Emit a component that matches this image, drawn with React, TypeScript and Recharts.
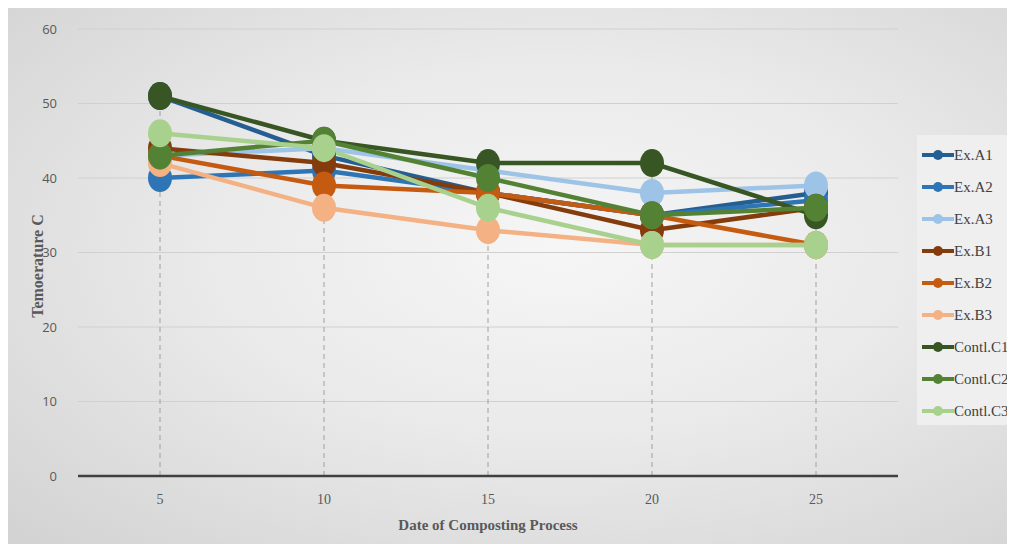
import { LineChart, Line, XAxis, YAxis, CartesianGrid, ReferenceLine } from 'recharts'

const days = ['5', '10', '15', '20', '25']
const yTicks = [0, 10, 20, 30, 40, 50, 60]

const exA1 = [51, 43, 38, 35, 38]
const exA2 = [40, 41, 38, 35, 37]
const exA3 = [43, 44, 41, 38, 39]
const exB1 = [44, 42, 38, 33, 36]
const exB2 = [43, 39, 38, 35, 31]
const exB3 = [42, 36, 33, 31, 31]
const contC1 = [51, 45, 42, 42, 35]
const contC2 = [43, 45, 40, 35, 36]
const contC3 = [46, 44, 36, 31, 31]

const series = [
  { key: 'Ex.A1', values: exA1, color: '#255e91' },
  { key: 'Ex.A2', values: exA2, color: '#2e75b6' },
  { key: 'Ex.A3', values: exA3, color: '#9dc3e6' },
  { key: 'Ex.B1', values: exB1, color: '#843c0c' },
  { key: 'Ex.B2', values: exB2, color: '#c55a11' },
  { key: 'Ex.B3', values: exB3, color: '#f4b183' },
  { key: 'Contl.C1', values: contC1, color: '#375623' },
  { key: 'Contl.C2', values: contC2, color: '#548235' },
  { key: 'Contl.C3', values: contC3, color: '#a9d18e' },
]

const data = days.map((d, i) => {
  const row: Record<string, string | number> = { day: d }
  series.forEach((s) => {
    row[s.key] = s.values[i]
  })
  return row
})

// drop lines go from the axis up to the highest point of each day
const tops = days.map((_, i) => Math.max(...series.map((s) => s.values[i])))

function YTitle() {
  return (
    <text
      x={29}
      y={258}
      transform="rotate(-90 29 258)"
      textAnchor="middle"
      dominantBaseline="central"
      fontFamily="'Liberation Serif', serif"
      fontWeight="bold"
      fontSize={16}
      fill="#595959"
    >
      Temoerature C
    </text>
  )
}

// markers look slightly taller than wide in the picture
function makeDot(color: string) {
  return (props: any) => {
    const { cx, cy, index } = props
    if (cx == null || cy == null) return <g key={index} />
    return <ellipse key={index} cx={cx} cy={cy} rx={12} ry={14} fill={color} />
  }
}

function Legend() {
  return (
    <div
      style={{
        position: 'absolute',
        left: 909,
        top: 127,
        width: 96,
        height: 290,
        background: '#efefef',
        fontFamily: "'Liberation Serif', serif",
        fontSize: 15,
        color: '#404040',
        whiteSpace: 'nowrap',
      }}
    >
      {series.map((s, i) => (
        <div
          key={s.key}
          style={{ position: 'absolute', left: 5, top: 10 + i * 32, height: 20, display: 'flex', alignItems: 'center' }}
        >
          <svg width={32} height={20}>
            <line x1={0} y1={10} x2={32} y2={10} stroke={s.color} strokeWidth={4} />
            <circle cx={16} cy={10} r={5} fill={s.color} />
          </svg>
          <span>{s.key}</span>
        </div>
      ))}
    </div>
  )
}

export default function App() {
  return (
    <div
      style={{
        position: 'relative',
        width: 1000,
        height: 536,
        background: 'radial-gradient(ellipse at 55% 45%, #f6f6f6 0%, #eaeaea 45%, #d2d2d2 100%)',
      }}
    >
      <LineChart width={1000} height={536} data={data} margin={{ top: 21, right: 110, bottom: 8, left: 0 }}>
        <CartesianGrid vertical={false} stroke="#d0d0d0" strokeWidth={1} />
        <XAxis
          dataKey="day"
          height={60}
          padding={{ left: 82, right: 82 }}
          axisLine={{ stroke: '#404040', strokeWidth: 2.5 }}
          tickLine={false}
          tickSize={0}
          tickMargin={18}
          tick={{ fontSize: 14, fill: '#595959', fontFamily: "'Liberation Serif', serif" }}
          label={{
            value: 'Date of Composting Process',
            position: 'insideBottom',
            offset: 6,
            style: { fontSize: 15, fontWeight: 'bold', fill: '#595959', fontFamily: "'Liberation Serif', serif" },
          }}
        />
        <YAxis
          domain={[0, 60]}
          ticks={yTicks}
          width={70}
          axisLine={false}
          tickLine={false}
          tickSize={0}
          tickMargin={21}
          tick={{ fontSize: 13, fill: '#595959', fontFamily: "'Open Sans', sans-serif" }}
          label={<YTitle />}
        />
        {days.map((d, i) => (
          <ReferenceLine
            key={d}
            segment={[
              { x: d, y: 0 },
              { x: d, y: tops[i] },
            ]}
            stroke="#a0a0a0"
            strokeDasharray="5 4"
            strokeWidth={1}
          />
        ))}
        {series.map((s) => (
          <Line
            key={s.key}
            dataKey={s.key}
            stroke={s.color}
            strokeWidth={4.5}
            dot={makeDot(s.color)}
            activeDot={false}
            isAnimationActive={false}
          />
        ))}
      </LineChart>
      <Legend />
    </div>
  )
}
